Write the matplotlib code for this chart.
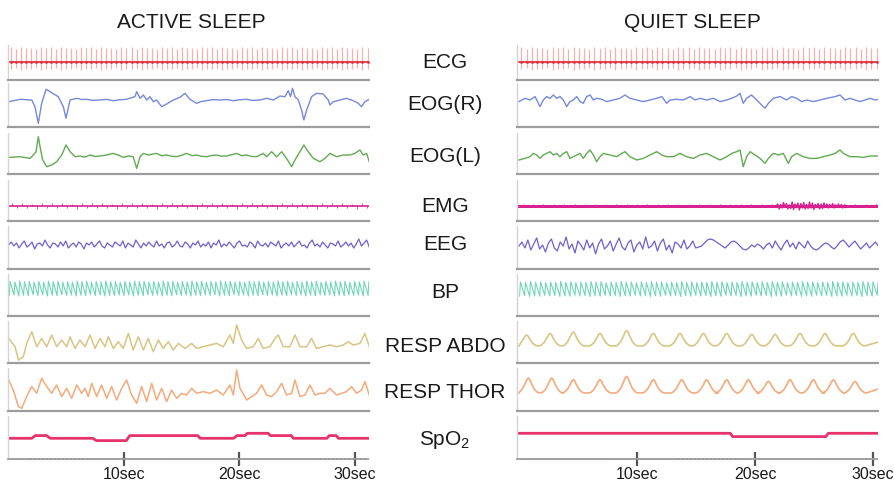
import numpy as np
import matplotlib.pyplot as plt

plt.rcParams['font.family'] = ['Liberation Sans', 'DejaVu Sans']
plt.rcParams['mathtext.fontset'] = 'custom'
plt.rcParams['mathtext.rm'] = 'Liberation Sans'
plt.rcParams['mathtext.it'] = 'Liberation Sans'

# ---- data (time in s, amplitude in trace units, up = +) ----
channels = ['ECG', 'EOG(R)', 'EOG(L)', 'EMG', 'EEG', 'BP', 'RESP ABDO', 'RESP THOR', 'SpO$_2$']
tick_secs = [10, 20, 30]
tick_labels = ['10sec', '20sec', '30sec']

ecg_beats_active = 72
ecg_beats_quiet = 69
ecg_tall = [15, 13.5, 15.5, 14, 14.5, 13, 15, 14]
ecg_low = [-7, -6, -7.5, -6.5]

eog_r_active = [(0, -1.7), (1.0, 0.7), (2.0, 0), (2.28, -6.7), (2.57, -23.3), (2.86, -3.3), (3.24, 10.7),
                (3.73, 7.3), (4.3, 3.3), (4.74, -6.7), (4.97, -18.3), (5.32, 0), (5.9, 1.7), (6.3, 0.5),
                (6.76, 0.7), (7.3, -0.3), (7.9, 0), (8.5, 0.6), (9.07, -0.7), (9.6, 0.2), (10.2, 0.7),
                (10.95, 3.3), (11.1, 8.3), (11.4, 1.7), (11.68, 5), (11.97, 0), (12.25, 3.3), (12.54, -1.7),
                (12.83, 0), (13.27, -6.7), (13.7, -4), (14.28, 0), (14.86, 2.7), (15.29, 6.7), (15.72, 0.7),
                (16.3, -3.3), (16.7, -1.5), (17.17, -0.7), (17.7, 0.4), (18.32, 0), (18.9, 0.5), (19.48, -0.7),
                (20.1, 0.3), (20.64, 0.7), (21.2, -0.4), (21.8, 0), (22.37, 1.7), (22.95, 0), (23.53, 4),
                (23.96, 3.3), (24.25, 9.3), (24.45, 3.3), (24.62, 11.7), (24.83, 3.3), (25.12, 0), (25.4, -10),
                (25.6, -20), (25.84, -10), (26.27, 3.3), (26.7, 6.7), (27.28, 6), (27.72, 0), (27.86, -5),
                (28.15, -1.7), (28.73, 0), (29.3, 1.7), (29.88, -0.7), (30.32, -3.3), (30.6, -6.7),
                (30.9, -1.7), (31.27, 0.7)]

eog_l_active = [(0, -0.7), (1.0, 0), (1.85, -1.7), (2.14, 1.7), (2.37, 5), (2.57, 20), (2.72, 10), (2.95, -3.3),
                (3.3, -10), (3.73, -8.3), (4.16, -5), (4.6, 1.7), (4.97, 11.7), (5.32, 5), (5.75, 0),
                (6.18, 0.7), (6.6, -0.5), (7.05, 1.7), (7.5, 0.2), (7.92, 0.7), (8.5, 1.7), (9.07, 3.3),
                (9.5, 1.7), (9.94, -0.7), (10.38, 0.7), (10.8, 0), (11.1, -11.7), (11.39, 0), (11.68, 3.3),
                (12.1, 1.7), (12.45, 2.5), (12.83, 3.3), (13.25, 1.0), (13.7, 1.7), (14.1, 0.5), (14.57, 0),
                (15.0, 1.5), (15.43, 3.3), (15.9, 1.0), (16.3, 1.7), (16.7, 0.4), (17.17, 0), (17.6, 1.2),
                (18.03, 1.7), (18.45, 0.5), (18.9, 0.7), (19.35, 2.0), (19.77, 3.3), (20.2, 1.0), (20.64, 1.7),
                (21.05, 0.3), (21.5, 0), (22.08, 3.3), (22.37, 0), (22.8, 5), (23.24, 0), (23.67, 5),
                (24.1, -1.7), (24.54, -10), (24.83, -3.3), (25.26, 5), (25.6, 11.7), (25.98, 5), (26.42, -1.7),
                (27.0, -5), (27.43, -1.7), (27.86, 3.3), (28.44, 0), (29.02, 1.7), (29.6, 1.7), (30.03, 3.3),
                (30.46, 6.7), (30.75, 1.7), (31.04, 3.3), (31.27, -5)]

emg_spike_active = [2.5, -2, 3, -2.5, 2, -3, 2.8, -1.8]
emg_spike_quiet = [1.5, -1.2, 1.8, -1.5]
emg_burst_quiet = [0, 2, -3, 1.5, -2, 3.5, -1, 2.5, -3, 1, -2.5, 4, -3.5, 2, -1.5, 3, -4, 2.5, -2, 3.5,
                   -3, 1.5, -2.5, 4, -2, 3, -3.5, 1.5, -1, 2.5, -3, 2, -2.5, 3, -1.5, 2, -2, 1.5, -1.5, 2.5,
                   -2, 1, -1.5, 2, -1, 1.5, -2, 1, -1.5, 0]
emg_burst_span = (21.8, 27.8)

eeg_active = [0, 3, -1, 2, -3, 1, 4, -2, 0, 3, -4, 1, 2, -1, 5, 0, -3, 2, 1, -2, 3, -1, 4, -3, 0, 2, -2, 3, 1, -4,
              2, 0, 3, -2, 1, 4, -1, -3, 2, 0, -2, 3, 1, -1, 4, -3, 2, 0, -2, 5, 1, -3, 2, -1, 3, 0, -2, 4, -1, 1,
              -3, 2, 3, -2, 0, 4, -1, -2, 3, 1, -3, 2, 0, 4, -2, 1, -1, 3, -3, 2, 0, 5, -2, 1, -1, 3, 0, -3, 2, 4,
              -1, 0, -2, 3, 1, -3, 4, 0, -1, 2, -2, 3, 1, -1, 4, -3, 0, 2, -1, 3, -2, 1, 4, -1, 0, -3, 2, 5, -1, 1,
              -2, 3, 0, -3, 2, 1, -1, 4, -2, 0, 3, -1, 2, -3, 1, 6, -1, 2, 5, -2]
eeg_quiet = [0, 4, -2, 6, -4, 2, 8, -3, 1, -6, 3, 7, -2, -5, 4, 0, 9, -3, 2, -7, 5, 1, -4, 6, -2, 3, -8, 2, 7, -3,
             0, 5, -5, 2, 8, -1, -4, 3, 6, -6, 1, 4, -3, 9, -2, 0, 5, -5, 3, 7, -4, 1, -7, 4, 2, -2, 6, -3, 0, 5,
             -2, -1, 0,
             3, 6, 7, 6, 4, 2, 0, -2, 1, 4, 5, 3, 0, -3,
             -4, -2, 1, -1, 2, 0, -3, 1,
             3, -2, 5, 0, -4, 2, 6, -1, 3, -3, 4, 1, -2, 5,
             0, -3, -4, -2, 1, 3, 2, -1, -3, 0,
             4, 6, 3, -1, 2, 5, 1, -3, 0, 3, -2, 1, 4, 0]

bp_beats_active = 76
bp_beats_quiet = 72
bp_half_amp = [7, 6.5, 7.5, 6.8, 7.2, 6.3]

resp_abdo_active = [(0, 8.3), (0.55, 0), (0.84, -13.3), (1.27, -10), (1.56, 3.3), (2.0, 15), (2.43, 0), (2.86, 8.3),
                    (3.3, 0), (3.73, 11.7), (4.16, 0), (4.6, 6.7), (5.03, 0), (5.32, 10), (5.75, -1.7), (6.18, 6.7),
                    (6.62, 0), (7.05, 11.7), (7.49, -1.7), (7.92, 8.3), (8.35, 0), (8.64, 10), (9.07, -1.7),
                    (9.5, 5), (9.94, -1.7), (10.38, 13.3), (10.8, -3.3), (11.24, 10), (11.68, -3.3), (12.1, 8.3),
                    (12.54, -5), (12.98, 6.7), (13.41, -1.7), (13.84, 5), (14.28, -3.3), (14.71, 3.3),
                    (15.29, -1.7), (15.87, 3.3), (16.3, -1.7), (16.88, 0), (17.46, 1.7), (18.03, 3.3), (18.61, 0),
                    (19.19, 11.7), (19.48, 3.3), (19.77, 21.7), (20.2, 6.7), (20.64, -1.7), (21.21, 0),
                    (21.65, 8.3), (22.08, -1.7), (22.66, 0), (23.09, 8.3), (23.38, 11.7), (23.82, 0), (24.39, 0),
                    (24.83, 11.7), (25.26, 0), (25.84, 0), (26.27, 8.3), (26.7, -1.7), (27.28, 0), (27.86, 1.7),
                    (28.44, 0), (29.02, 1.7), (29.45, 5), (29.88, 1.7), (30.46, 3.3), (30.9, 13.3), (31.27, 0)]

resp_thor_active = [(0, 13.3), (0.4, 3.3), (0.84, -13.3), (1.13, -15), (1.56, -3.3), (2.0, 6.7), (2.43, 0),
                    (2.86, 15), (3.3, 6.7), (3.73, 0), (4.16, 8.3), (4.6, -3.3), (5.03, 5), (5.46, -5), (5.9, 8.3),
                    (6.33, 0), (6.62, 5), (6.9, -3.3), (7.2, 10), (7.63, -3.3), (8.06, 8.3), (8.5, -5), (8.93, 6.7),
                    (9.36, -6.7), (9.8, 5), (10.23, 13.3), (10.66, -1.7), (11.1, -10), (11.53, 6.7), (11.97, -8.3),
                    (12.4, 10), (12.83, -6.7), (13.27, 5), (13.7, -8.3), (14.13, 3.3), (14.57, -5), (15.0, 0),
                    (15.43, -1.7), (15.87, 5), (16.3, 0), (16.88, 1.7), (17.46, 0), (18.03, 3.3), (18.61, -1.7),
                    (19.19, 8.3), (19.48, -1.7), (19.77, 23.3), (20.06, 5), (20.64, -6.7), (21.07, -3.3),
                    (21.5, 0), (21.94, 8.3), (22.37, -1.7), (22.8, -3.3), (23.24, 1.7), (23.67, 10), (24.1, -1.7),
                    (24.54, 0), (24.83, 13.3), (25.26, -3.3), (25.69, -1.7), (26.13, 8.3), (26.56, -1.7),
                    (27.0, 0), (27.43, 0), (27.86, 5), (28.44, -1.7), (28.87, 0), (29.3, 1.7), (29.74, 6.7),
                    (30.17, 0), (30.6, 3.3), (30.9, 11.7), (31.27, -1.7)]

spo2_active = [(0, 0), (2.0, 0), (2.3, 2.7), (3.3, 2.7), (3.6, 0), (7.3, 0), (7.6, -2.3), (10.2, -2.3),
               (10.5, 2.7), (16.4, 2.7), (16.6, 0), (19.5, 0), (19.8, 2.7), (20.5, 2.7), (20.7, 5), (22.5, 5),
               (22.7, 2.7), (24.5, 2.7), (24.7, 0), (27.6, 0), (27.8, 2.7), (28.4, 2.7), (28.6, 0), (31.27, 0)]

eog_r_quiet = [(0, -2.3), (0.5, 1), (0.93, -0.7), (1.36, 2.7), (1.78, -7.3), (2.06, -0.7), (2.34, 2.7), (2.63, 1),
               (2.91, 4.3), (3.19, 1), (3.47, 2.7), (3.76, -0.7), (4.04, -7.3), (4.32, -2.3), (4.6, -0.7),
               (4.89, 2.7), (5.17, -2.3), (5.45, -4), (5.73, 2.7), (6.02, 4.3), (6.3, -0.7), (6.58, 1), (7.0, 0),
               (7.43, -2.3), (8.0, -0.7), (8.56, 1), (8.98, 4.3), (9.4, 1), (9.97, -0.7), (10.54, -2.3),
               (11.1, -0.7), (11.67, 1), (12.1, 2.7), (12.51, -4), (12.8, -0.7), (13.36, 0), (13.93, -0.7),
               (14.5, 2.7), (14.92, -0.7), (15.34, 1), (15.9, -0.7), (16.47, 1), (17.03, -2.3), (17.6, -0.7),
               (18.02, 1), (18.45, 3.3), (18.73, 6), (19.0, -4), (19.29, 1), (19.7, 4.3), (20.14, -0.7),
               (20.56, -5.7), (20.85, -9), (21.13, -4), (21.55, 1), (22.12, 2.7), (22.68, -0.7), (23.1, 2.7),
               (23.53, 1), (23.95, -2.3), (24.38, -0.7), (24.94, -2.3), (25.5, -0.7), (26.07, 1), (26.78, 2.7),
               (27.2, 4.3), (27.63, -0.7), (28.05, 1), (28.47, -0.7), (28.9, -2.3), (29.32, -0.7), (29.75, 1),
               (30.17, -0.7), (30.45, 0)]

eog_l_quiet = [(0, -3.3), (0.5, -1.7), (0.93, 0), (1.21, 3.3), (1.5, 1.7), (1.78, -1.7), (2.06, 1.7), (2.34, 3.3),
               (2.63, 5), (2.91, 1.7), (3.19, 3.3), (3.47, 0), (3.76, 3.3), (4.04, 5), (4.32, -1.7), (4.6, 0),
               (4.89, 1.7), (5.17, 3.3), (5.45, -1.7), (5.73, 3.3), (6.02, 6.7), (6.3, 1.7), (6.58, -5),
               (6.86, 0), (7.15, 3.3), (7.71, 1.7), (8.28, 0), (8.7, 3.3), (8.98, 5), (9.4, 0), (9.97, -3.3),
               (10.54, -1.7), (11.1, 1.7), (11.67, 5), (12.1, 1.7), (12.51, 0), (13.08, 0), (13.64, 3.3),
               (14.2, 0), (14.77, -1.7), (15.34, 1.7), (15.9, 3.3), (16.47, 0), (17.03, -3.3), (17.6, 0),
               (18.02, 3.3), (18.45, 5), (18.73, 6.7), (19.0, -10), (19.29, 0), (19.58, 5), (20.0, 1.7),
               (20.42, -1.7), (20.85, -6.7), (21.13, -1.7), (21.55, 3.3), (21.98, 1.7), (22.4, 3.3),
               (22.82, -6.7), (23.1, 0), (23.53, 3.3), (24.1, 0), (24.66, -1.7), (25.23, -1.7), (25.8, 0),
               (26.36, 1.7), (26.78, 3.3), (27.2, 6.7), (27.49, 3.3), (28.05, 0), (28.62, 0), (29.18, -0.7),
               (29.75, 0.7), (30.45, 0.7)]

abdo_peaks_quiet = [0.65, 2.63, 4.6, 6.86, 9.12, 11.38, 13.64, 15.62, 17.6, 19.72, 21.7, 23.81, 25.93, 28.33]
abdo_heights_quiet = [11, 12.7, 14, 12.7, 15.5, 12.7, 12.7, 12.7, 12.7, 11.7, 11.7, 12.7, 12.7, 12.7]
thor_peaks_quiet = [0.79, 2.77, 4.6, 6.86, 9.12, 11.38, 13.79, 15.9, 17.6, 19.44, 21.13, 22.97, 24.94, 26.64, 28.47]
thor_heights_quiet = [15, 15, 13.3, 13.3, 16.7, 13.3, 13.3, 13.3, 13.3, 13.3, 11.7, 13.3, 13.3, 13.3, 11.7]
# one breath as seen in the quiet trace: rounded trough, pointed top
breath_shape = [(-0.95, 0), (-0.75, 0.06), (-0.5, 0.28), (-0.28, 0.62), (-0.12, 0.9), (0, 1), (0.12, 0.9),
                (0.28, 0.6), (0.5, 0.26), (0.75, 0.06), (0.95, 0)]

spo2_quiet = [(0, 0), (17.9, 0), (18.1, -3.3), (26.0, -3.3), (26.2, 0), (30.45, 0)]

# ---- layout (pixels of the 894x482 picture) ----
W, H = 894, 482
rows = [(45, 80), (83, 127), (133, 174), (180, 221), (226, 269), (274, 316), (321, 363), (368, 411), (416, 459)]
base_active = [62, 100, 156.7, 206, 245, 288.5, 346.7, 393.3, 438.3]
base_quiet = [62, 99.3, 156.7, 206, 246, 289, 346, 393, 433.3]
label_y = [62, 105, 157, 206, 244, 293, 346, 392, 440]
panel_active = dict(x0=8, x1=369, tlim=(-0.06, 31.25))
panel_quiet = dict(x0=517, x1=878, tlim=(-0.17, 30.42))

colors = {'ecg': '#e8303c', 'ecg_spike': '#f5b0b0', 'eog_r': '#7488dc', 'eog_l': '#62aa52',
          'emg': '#d8208e', 'eeg': '#6e60cf', 'bp': '#6fd6b6', 'abdo': '#d9c583',
          'thor': '#f4aa7a', 'spo2': '#e6336b'}

fig = plt.figure(figsize=(W / 100, H / 100), dpi=100)


def strip(panel, i, base):
    top, bottom = rows[i]
    ax = fig.add_axes([panel['x0'] / W, 1 - bottom / H, (panel['x1'] - panel['x0']) / W, (bottom - top) / H])
    ax.set_xlim(*panel['tlim'])
    ax.set_ylim(-(bottom - base), base - top)
    for s in ['top', 'right']:
        ax.spines[s].set_visible(False)
    ax.spines['left'].set_color('#d4d4d4')
    ax.spines['left'].set_linewidth(1.0)
    ax.spines['bottom'].set_color('#9c9c9c')
    ax.spines['bottom'].set_linewidth(1.6)
    ax.set_xticks([])
    ax.set_yticks([])
    ax.patch.set_alpha(0)
    return ax


def line(ax, pts, color, lw=1.0):
    t, a = zip(*pts)
    ax.plot(t, a, color=color, lw=lw, solid_joinstyle='round')


def ecg(ax, n, tmax):
    beats = np.linspace(0.2, tmax - 0.15, n)
    hi = [ecg_tall[k % len(ecg_tall)] for k in range(n)]
    lo = [ecg_low[k % len(ecg_low)] for k in range(n)]
    ax.vlines(beats, lo, hi, color=colors['ecg_spike'], lw=0.9)
    ax.plot([0, tmax], [0, 0], color=colors['ecg'], lw=1.3)
    ax.plot(beats, np.zeros(n), 'o', ms=2.0, color=colors['ecg'], mew=0)


def emg(ax, n, tmax, spikes, lw):
    beats = np.linspace(0.3, tmax - 0.2, n)
    hi = [spikes[k % len(spikes)] for k in range(n)]
    ax.vlines(beats, 0, hi, color=colors['emg'], lw=0.7, alpha=0.8)
    ax.plot([0, tmax], [0, 0], color=colors['emg'], lw=lw)


def eeg(ax, vals, tmax):
    ax.plot(np.linspace(0, tmax, len(vals)), vals, color=colors['eeg'], lw=0.9)


def bp(ax, n, tmax):
    beats = np.linspace(0.05, tmax - 0.1, n)
    t, a = [], []
    for k, b in enumerate(beats):
        h = bp_half_amp[k % len(bp_half_amp)]
        t += [b, b + 0.07]
        a += [-h, h]
    ax.plot(t, a, color=colors['bp'], lw=0.8)


def breaths(peaks, heights, shape, tmax):
    pts = [(0, 0)]
    for p, h in zip(peaks, heights):
        pts += [(p + dt, h * f) for dt, f in shape if p + dt > 0]
    pts.append((tmax, 4))
    return pts


# ---------------- active sleep ----------------
P = panel_active
tmax_a = 31.27
ax = strip(P, 0, base_active[0]); ecg(ax, ecg_beats_active, tmax_a)
ax = strip(P, 1, base_active[1]); line(ax, eog_r_active, colors['eog_r'])
ax = strip(P, 2, base_active[2]); line(ax, eog_l_active, colors['eog_l'])
ax = strip(P, 3, base_active[3]); emg(ax, ecg_beats_active, tmax_a, emg_spike_active, 1.2)
ax = strip(P, 4, base_active[4]); eeg(ax, eeg_active, tmax_a)
ax = strip(P, 5, base_active[5]); bp(ax, bp_beats_active, tmax_a)
ax = strip(P, 6, base_active[6]); line(ax, resp_abdo_active, colors['abdo'], 1.1)
ax = strip(P, 7, base_active[7]); line(ax, resp_thor_active, colors['thor'], 1.1)
ax_a = strip(P, 8, base_active[8]); line(ax_a, spo2_active, colors['spo2'], 2.0)

# ---------------- quiet sleep ----------------
P = panel_quiet
tmax_q = 30.45
ax = strip(P, 0, base_quiet[0]); ecg(ax, ecg_beats_quiet, tmax_q)
ax = strip(P, 1, base_quiet[1]); line(ax, eog_r_quiet, colors['eog_r'])
ax = strip(P, 2, base_quiet[2]); line(ax, eog_l_quiet, colors['eog_l'])
ax = strip(P, 3, base_quiet[3]); emg(ax, ecg_beats_quiet, tmax_q, emg_spike_quiet, 2.2)
ax.plot(np.linspace(*emg_burst_span, len(emg_burst_quiet)), emg_burst_quiet, color=colors['emg'], lw=1.0)
ax = strip(P, 4, base_quiet[4]); eeg(ax, eeg_quiet, tmax_q)
ax = strip(P, 5, base_quiet[5]); bp(ax, bp_beats_quiet, tmax_q)
ax = strip(P, 6, base_quiet[6])
line(ax, breaths(abdo_peaks_quiet, abdo_heights_quiet, breath_shape, tmax_q), colors['abdo'], 1.2)
ax = strip(P, 7, base_quiet[7])
line(ax, breaths(thor_peaks_quiet, thor_heights_quiet, breath_shape, tmax_q), colors['thor'], 1.2)
ax_q = strip(P, 8, base_quiet[8]); line(ax_q, spo2_quiet, colors['spo2'], 2.0)

for a in [ax_a, ax_q]:
    a.spines['bottom'].set_linestyle((0, (1.5, 0.7)))
    a.spines['bottom'].set_linewidth(1.3)
    a.set_xticks(tick_secs)
    a.set_xticklabels(tick_labels)
    a.tick_params(axis='x', direction='inout', length=10, width=1.6, color='#555555',
                  labelsize=11.5, pad=1, labelcolor='#1a1a1a')

# ---------------- text ----------------
fig.text(191 / W, 1 - 22 / H, 'ACTIVE SLEEP', ha='center', va='center', fontsize=15, color='#1a1a1a')
fig.text(692 / W, 1 - 22 / H, 'QUIET SLEEP', ha='center', va='center', fontsize=15, color='#1a1a1a')
for name, y in zip(channels, label_y):
    fig.text(445 / W, 1 - y / H, name, ha='center', va='center', fontsize=15, color='#1a1a1a')

fig.savefig('out.png', dpi=100)
